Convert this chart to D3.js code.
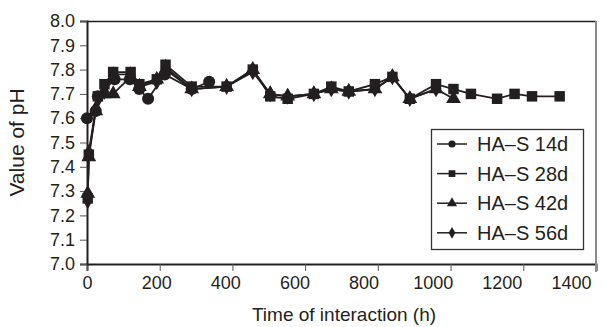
<!DOCTYPE html>
<html>
<head>
<meta charset="utf-8">
<script src="https://cdn.jsdelivr.net/npm/d3@7/dist/d3.min.js"></script>
<style>
  body { margin: 0; background: #fff; }
  svg text { font-family: "Liberation Sans", Arial, Helvetica, sans-serif; fill: #231f20; }
</style>
</head>
<body>
<svg id="chart" width="610" height="327"></svg>
<script>
// Tick values
const xTicks = [0, 200, 400, 600, 800, 1000, 1200, 1400];
const yTicks = [7.0, 7.1, 7.2, 7.3, 7.4, 7.5, 7.6, 7.7, 7.8, 7.9, 8.0];

// Series labels
const seriesNames = ["HA\u2013S 14d", "HA\u2013S 28d", "HA\u2013S 42d", "HA\u2013S 56d"];

// HA–S 14d (h, pH)
const time14 = [0, 24, 30, 76, 118, 144, 168, 214, 288, 336];
const ph14   = [7.60, 7.63, 7.69, 7.76, 7.76, 7.72, 7.68, 7.78, 7.72, 7.75];

// HA–S 28d
const time28 = [2, 5, 30, 48, 72, 120, 144, 192, 216, 288, 384, 456, 504, 552, 624, 672, 720, 792, 840, 888, 960, 1008, 1056, 1128, 1176, 1224, 1300];
const ph28   = [7.27, 7.45, 7.69, 7.74, 7.79, 7.79, 7.74, 7.76, 7.82, 7.73, 7.73, 7.80, 7.69, 7.68, 7.70, 7.73, 7.71, 7.74, 7.77, 7.68, 7.74, 7.72, 7.70, 7.68, 7.70, 7.69, 7.69];

// HA–S 42d
const time42 = [2, 5, 24, 48, 72, 120, 144, 192, 216, 288, 384, 456, 504, 552, 624, 672, 720, 792, 840, 888, 960, 1008];
const ph42   = [7.29, 7.44, 7.63, 7.70, 7.70, 7.77, 7.73, 7.76, 7.80, 7.72, 7.73, 7.80, 7.70, 7.69, 7.70, 7.72, 7.71, 7.72, 7.77, 7.68, 7.72, 7.68];

// HA–S 56d
const time56 = [2, 5, 24, 48, 72, 120, 144, 192, 216, 288, 384, 456, 504, 552, 624, 672, 720, 792, 840, 888, 960];
const ph56   = [7.26, 7.46, 7.64, 7.71, 7.78, 7.78, 7.73, 7.75, 7.81, 7.72, 7.73, 7.79, 7.70, 7.69, 7.70, 7.72, 7.71, 7.72, 7.77, 7.68, 7.72];

const ink = "#231f20";
const W = 610, H = 327;
const margin = { left: 87, right: 14, top: 21, bottom: 63 };
const plotR = W - margin.right, plotB = H - margin.bottom;

const svg = d3.select("#chart");

const x = d3.scaleLinear().domain([0, 1400]).range([margin.left, plotR]);
const y = d3.scaleLinear().domain([7.0, 8.0]).range([plotB, margin.top]);
// The time labels are set on a slightly tighter spacing than the tick marks
const xLabel = d3.scaleLinear().domain([0, 1400]).range([margin.left, 571]);

// Frame: top edge dark
svg.append("line")
  .attr("x1", margin.left).attr("x2", plotR)
  .attr("y1", margin.top + 0.5).attr("y2", margin.top + 0.5)
  .attr("stroke", ink).attr("stroke-width", 1.5);

// Axes
const xAxis = svg.append("g")
  .attr("transform", `translate(0,${plotB})`)
  .call(d3.axisBottom(x).tickValues(xTicks).tickFormat("").tickSize(7));
const xLabels = svg.append("g")
  .attr("transform", `translate(0,${plotB})`)
  .call(d3.axisBottom(xLabel).tickValues(xTicks).tickFormat(d3.format("d")).tickSize(0).tickPadding(12));
xLabels.select(".domain").remove();
const yAxis = svg.append("g")
  .attr("transform", `translate(${margin.left},0)`)
  .call(d3.axisLeft(y).tickValues(yTicks).tickFormat(d3.format(".1f")).tickSize(7).tickPadding(5));

[xAxis, yAxis].forEach(g => {
  g.select(".domain").attr("stroke", ink).attr("stroke-width", 2);
  g.selectAll(".tick line").attr("stroke", "#555").attr("stroke-width", 1);
});
[xLabels, yAxis].forEach(g => {
  g.selectAll(".tick text").attr("font-size", 18).style("fill", ink);
});

svg.append("line")
  .attr("x1", plotR).attr("x2", plotR)
  .attr("y1", margin.top).attr("y2", plotB + 8)
  .attr("stroke", "#8a8a8a").attr("stroke-width", 2);

// Axis titles
svg.append("text")
  .attr("x", 344).attr("y", 321)
  .attr("text-anchor", "middle").attr("font-size", 19)
  .text("Time of interaction (h)");
svg.append("text")
  .attr("transform", `translate(24,${(margin.top + plotB) / 2}) rotate(-90)`)
  .attr("text-anchor", "middle").attr("font-size", 21)
  .text("Value of pH");

// Series
const series = [
  { name: seriesNames[0], t: time14, v: ph14, sym: d3.symbolCircle,   size: 115, lsize: 40 },
  { name: seriesNames[1], t: time28, v: ph28, sym: d3.symbolSquare,   size: 110, lsize: 45 },
  { name: seriesNames[2], t: time42, v: ph42, sym: d3.symbolTriangle, size: 95,  lsize: 45 },
  { name: seriesNames[3], t: time56, v: ph56, sym: d3.symbolDiamond,  size: 80,  lsize: 40 }
];

const line = d3.line().x(d => x(d[0])).y(d => y(d[1]));

// Later series drawn first so the earlier ones sit on top
series.slice().reverse().forEach(s => {
  const pts = s.t.map((t, i) => [t, s.v[i]]);
  const g = svg.append("g");
  g.append("path").datum(pts)
    .attr("d", line).attr("fill", "none")
    .attr("stroke", ink).attr("stroke-width", 1.8);
  g.selectAll("path.pt").data(pts).join("path")
    .attr("class", "pt")
    .attr("transform", d => `translate(${x(d[0])},${y(d[1])})`)
    .attr("d", d3.symbol().type(s.sym).size(s.size))
    .attr("fill", ink);
});

// Legend
const lg = svg.append("g").attr("transform", "translate(431,129)");
lg.append("rect").attr("x", 0.5).attr("y", 0.5).attr("width", 152).attr("height", 120)
  .attr("fill", "#fff").attr("stroke", "#333").attr("stroke-width", 1.3);
series.forEach((s, i) => {
  const cy = 15 + i * 29.6;
  const row = lg.append("g").attr("transform", `translate(0,${cy})`);
  row.append("line").attr("x1", 6).attr("x2", 36).attr("y1", 0).attr("y2", 0)
    .attr("stroke", ink).attr("stroke-width", 1.5);
  row.append("path").attr("transform", "translate(21,0)")
    .attr("d", d3.symbol().type(s.sym).size(s.lsize)).attr("fill", ink);
  row.append("text").attr("x", 46).attr("y", 0).attr("dy", "0.35em")
    .attr("font-size", 20).text(s.name);
});
</script>
</body>
</html>
